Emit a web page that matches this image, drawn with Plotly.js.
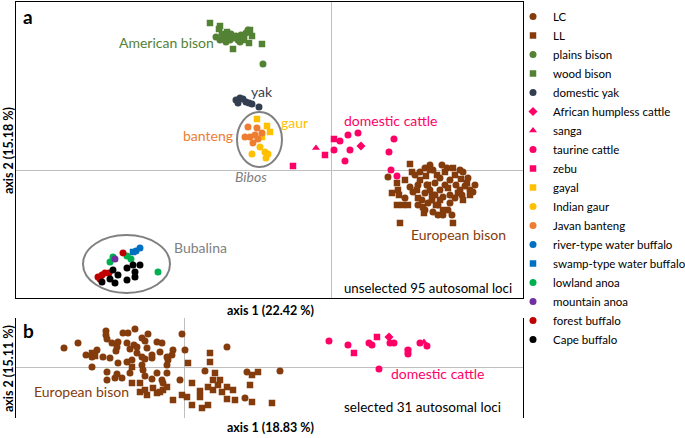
<!DOCTYPE html>
<html>
<head>
<meta charset="utf-8">
<script src="https://cdn.plot.ly/plotly-3.0.1.min.js"></script>
<style>
  body { margin: 0; background: #fff; }
  #chart { width: 685px; height: 438px; }
</style>
</head>
<body>
<div id="chart"></div>
<script>
// PCA scores, [axis 1, axis 2], arbitrary units
// panel a: unselected 95 autosomal loci
const lcA = [[56,-6],[73,-27],[83,-4],[88,-1],[93,3],[98,6],[101,1],[108,-7],[103,-12],[98,-19],[93,-22],[90,-29],[96,-32],[101,-41],[106,-44],[111,-44],[116,-39],[118,-32],[123,-27],[128,-19],[133,-15],[138,-19],[141,-21],[136,-7],[128,1],[118,-9],[113,-14],[108,-19],[103,-24],[111,-26],[118,-24],[106,-34],[100,-29],[95,-14],[86,-14],[81,-21],[78,-16],[115,3],[110,6],[124,-14],[130,-24],[86,-34],[93,-39],[120,-44],[143,-14],[131,-1]];
const llA = [[78,7],[80,-1],[73,-9],[65,-12],[66,-19],[60,-22],[67,-24],[65,-34],[71,-34],[76,-34],[68,-52],[88,-9],[85,-19],[91,-36],[92,-42],[98,1],[105,-4],[113,-1],[121,3],[123,-4],[129,-8],[135,-12],[126,-22],[138,-24],[121,-52],[108,-29],[116,-17],[100,-24],[96,-14],[111,-39],[86,-27],[104,-34],[131,-29],[94,-5]];
const plainsA = [[-116,134],[-112,131],[-108,133],[-104,135],[-102,131],[-99,133],[-96,135],[-94,131],[-91,136],[-88,133],[-86,138],[-84,141],[-106,129],[-110,137],[-101,137],[-92,129],[-69,107]];
const woodA = [[-122,148],[-112,145],[-113,142],[-82,141],[-80,135],[-83,128],[-70,127],[-99,122],[-89,131],[-105,139]];
const yakA = [[-96,71],[-92,73],[-89,72],[-86,69],[-83,68],[-80,67],[-73,64],[-94,68]];
const humplessA = [[29,25]];
const sangaA = [[-16,23]];
const taurineA = [[8,30],[16,36],[26,38],[2,21],[18,21],[13,10],[62,32],[57,19],[59,1],[65,-5]];
const zebuA = [[-39,5],[-7,16],[2,32]];
const gayalA = [[-75,52],[-65,45],[-62,39],[-70,34]];
const gaurA = [[-72,24],[-67,19],[-64,17],[-80,17],[-66,13]];
const bantengA = [[-84,44],[-75,43],[-87,34],[-82,34],[-77,36],[-70,38],[-79,28],[-74,32]];
const riverA = [[-192,-77],[-196,-80]];
const swampA = [[-199,-81]];
const lowlandA = [[-219,-86],[-222,-91],[-205,-85],[-201,-88],[-174,-101]];
const mountainA = [[-217,-88]];
const forestA = [[-209,-82],[-234,-106],[-230,-104],[-227,-102],[-223,-102],[-232,-108]];
const capeA = [[-219,-99],[-205,-97],[-197,-101],[-192,-94],[-199,-94],[-214,-104],[-222,-108],[-230,-111],[-217,-112],[-205,-109],[-197,-106]];

// panel b: selected 31 autosomal loci
const lcB = [[-121,20],[-107,25],[-79,37],[-79,33],[-78,29],[-62,35],[-57,35],[-50,39],[-37,34],[-43,30],[-40,27],[-28,26],[-23,25],[-3,34],[-67,26],[-73,25],[-69,17],[-58,25],[-55,19],[-51,23],[-48,15],[-43,11],[-40,9],[-33,10],[-99,13],[-88,18],[-93,11],[-82,11],[-75,10],[-67,5],[-58,6],[-53,8],[-93,1],[-78,-4],[-68,-6],[-63,-10],[-78,-12],[-70,-10],[-55,-5],[-42,-2],[-40,-8],[-33,-11],[-28,-5],[-23,-12],[-22,-15],[-18,-5],[-17,8],[-12,18],[-13,13],[-18,3],[-5,-12],[0,18],[20,-3],[42,21],[62,-4],[95,-3],[60,-30],[-43,3],[-33,13],[-25,16],[-38,20],[-48,21],[-68,21],[-18,11]];
const llB = [[-93,15],[-90,12],[-53,1],[-53,-15],[-45,-15],[-45,-24],[-38,-27],[-32,-20],[-28,-25],[-22,-22],[-18,-19],[-12,-32],[-3,-27],[3,5],[7,-15],[2,-29],[7,-37],[15,-23],[17,-40],[23,-37],[25,15],[25,6],[30,-5],[23,-19],[28,-22],[33,-17],[37,-24],[42,-19],[48,-22],[42,-31],[50,-32],[67,-7],[73,-4],[65,-17],[67,-34],[87,-35],[15,-29],[28,-12],[35,-12],[-40,-22],[-25,-24]];
const taurineB = [[144,27],[163,23],[184,25],[187,23],[205,25],[209,25],[223,18],[223,14],[235,25],[242,22],[194,-1]];
const zebuB = [[169,15],[192,31],[223,17]];
const humplessB = [[204,31]];
const sangaB = [[239,26]];

const brown = '#843C0C', green = '#548235', slate = '#333F50', pink = '#FF0066';
const yellow = '#FFC000', orange = '#ED7D31', blue = '#0070C0';

function pts(name, data, color, symbol, panel) {
  const isB = panel === 'b';
  return {
    type: 'scatter', mode: 'markers', name: name,
    x: data.map(d => d[0]), y: data.map(d => d[1]),
    xaxis: isB ? 'x2' : 'x', yaxis: isB ? 'y2' : 'y',
    showlegend: !isB, legendgroup: name,
    marker: { color: color, symbol: symbol, size: symbol === 'square' ? 6.5 : 7, line: { width: 0 } },
    hoverinfo: 'skip'
  };
}

const traces = [
  pts('LC', lcA, brown, 'circle'),
  pts('LL', llA, brown, 'square'),
  pts('plains bison', plainsA, green, 'circle'),
  pts('wood bison', woodA, green, 'square'),
  pts('domestic yak', yakA, slate, 'circle'),
  pts('African humpless cattle', humplessA, pink, 'diamond'),
  pts('sanga', sangaA, pink, 'triangle-up'),
  pts('taurine cattle', taurineA, pink, 'circle'),
  pts('zebu', zebuA, pink, 'square'),
  pts('gayal', gayalA, yellow, 'square'),
  pts('Indian gaur', gaurA, yellow, 'circle'),
  pts('Javan banteng', bantengA, orange, 'circle'),
  pts('river-type water buffalo', riverA, blue, 'circle'),
  pts('swamp-type water buffalo', swampA, blue, 'square'),
  pts('lowland anoa', lowlandA, '#00B050', 'circle'),
  pts('mountain anoa', mountainA, '#7030A0', 'circle'),
  pts('forest buffalo', forestA, '#C00000', 'circle'),
  pts('Cape buffalo', capeA, '#000000', 'circle'),
  pts('LC', lcB, brown, 'circle', 'b'),
  pts('LL', llB, brown, 'square', 'b'),
  pts('taurine cattle', taurineB, pink, 'circle', 'b'),
  pts('zebu', zebuB, pink, 'square', 'b'),
  pts('African humpless cattle', humplessB, pink, 'diamond', 'b'),
  pts('sanga', sangaB, pink, 'triangle-up', 'b')
];

const FONT = 'Lato, "Open Sans", sans-serif';

function ax(domain, range) {
  return {
    domain: domain, range: range, showgrid: false, showticklabels: false, ticks: '',
    zeroline: true, zerolinecolor: '#BFBFBF', zerolinewidth: 1,
    showline: true, mirror: true, linecolor: '#000', linewidth: 1.5, fixedrange: true
  };
}

function lbl(text, x, y, color, size, opts) {
  return Object.assign({
    text: text, x: x, y: y, xref: 'x', yref: 'y', showarrow: false,
    xanchor: 'left', yanchor: 'middle', font: { family: FONT, size: size, color: color }
  }, opts || {});
}

function axTitle(text, x, y, angle) {
  return {
    text: '<b>' + text + '</b>', xref: 'paper', yref: 'paper', x: x, y: y, textangle: angle,
    showarrow: false, xanchor: 'center', yanchor: 'middle',
    font: { family: FONT, size: 12.5, color: '#000' }
  };
}

const annotations = [
  lbl('<b>a</b>', -311, 155, '#000', 19),
  lbl('American bison', -116, 129, green, 14, { xanchor: 'right' }),
  lbl('yak', -70, 80, slate, 14, { xanchor: 'center' }),
  lbl('gaur', -53, 48, yellow, 14),
  lbl('banteng', -97, 35, orange, 14, { xanchor: 'right' }),
  lbl('<i>Bibos</i>', -81, -6, '#7F7F7F', 14, { xanchor: 'center' }),
  lbl('domestic cattle', 10, 50, pink, 14),
  lbl('European bison', 77, -64, brown, 14),
  lbl('unselected 95 autosomal loci', 10, -117, '#000', 13.2),
  lbl('Bubalina', -160, -77, '#808080', 14),
  lbl('<b>b</b>', -164, 37, '#000', 19, { xref: 'x2', yref: 'y2' }),
  lbl('European bison', -153, -24, brown, 14, { xref: 'x2', yref: 'y2' }),
  lbl('domestic cattle', 204, -6, pink, 14, { xref: 'x2', yref: 'y2' }),
  lbl('selected 31 autosomal loci', 157, -39, '#000', 13.5, { xref: 'x2', yref: 'y2' }),
  axTitle('axis 1 (22.42 %)', 0.3797, 0.2596, 0),
  axTitle('axis 1 (18.83 %)', 0.3797, -0.024, 0),
  axTitle('axis 2 (15.18 %)', -0.012, 0.644, -90),
  axTitle('axis 2 (15.11 %)', -0.012, 0.120, -90)
];

const shapes = [
  { type: 'circle', xref: 'x', yref: 'y', x0: -95, x1: -50, y0: 4, y1: 59, line: { color: '#808080', width: 2 } },
  { type: 'circle', xref: 'x', yref: 'y', x0: -249, x1: -162, y0: -122, y1: -64, line: { color: '#808080', width: 2 } }
];

const layout = {
  width: 685, height: 438,
  margin: { l: 16, r: 0, t: 2, b: 20, autoexpand: false },
  paper_bgcolor: '#fff', plot_bgcolor: '#fff',
  font: { family: FONT, size: 12, color: '#000' },
  xaxis: ax([0, 0.7578], [-316, 191]),
  yaxis: ax([0.2885, 1], [-127, 169]),
  xaxis2: ax([0, 0.7578], [-169, 338]),
  yaxis2: ax([0, 0.2404], [-50, 50]),
  legend: {
    x: 0.7429, y: 1, xanchor: 'left', yanchor: 'top', maxheight: 1,
    font: { family: FONT, size: 11.5, color: '#000' },
    bgcolor: 'rgba(0,0,0,0)', borderwidth: 0, tracegroupgap: 0
  },
  annotations: annotations,
  shapes: shapes
};

Plotly.newPlot('chart', traces, layout, { displayModeBar: false, staticPlot: true });
</script>
</body>
</html>
